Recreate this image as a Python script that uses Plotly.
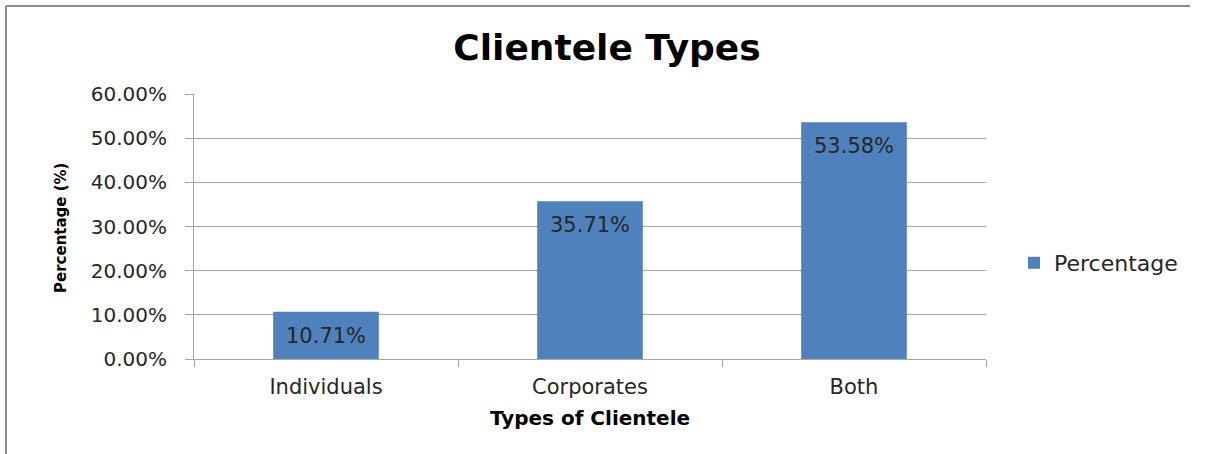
import plotly.graph_objects as go

# Survey breakdown of client types
categories = ["Individuals", "Corporates", "Both"]
percentages = [0.1071, 0.3571, 0.5358]
series_name = "Percentage"
y_ticks = [0.0, 0.1, 0.2, 0.3, 0.4, 0.5, 0.6]
y_tick_labels = ["0.00%", "10.00%", "20.00%", "30.00%", "40.00%", "50.00%", "60.00%"]

W, H = 1208, 454
L, R, T, B = 194, 222, 94, 95
plot_w = W - L - R
plot_h = H - T - B

BAR = "#4f81bd"
GRID = "#a6a6a6"
TXT = "#262626"
BODY_FONT = "DejaVu Sans"
BOLD_FONT = "DejaVu Sans"

fig = go.Figure(
    go.Bar(
        x=categories,
        y=percentages,
        name=series_name,
        marker=dict(color=BAR, line=dict(width=0)),
        width=0.4,
        showlegend=True,
    )
)

# value labels just inside the top of each bar
for cat, val in zip(categories, percentages):
    fig.add_annotation(
        x=cat, y=val, xref="x", yref="y",
        text=f"{val:.2%}", showarrow=False,
        yanchor="middle", yshift=-24,
        font=dict(family=BODY_FONT, size=21, color=TXT),
    )

# outer chart frame: top and left edges (the rest runs off the page)
fx0 = (6 - L) / plot_w
fx1 = (1190 - L) / plot_w
fy1 = 1 + (T - 6) / plot_h
fy0 = -(H - T - plot_h) / plot_h
frame = dict(color="#8c8c8c", width=2)
fig.add_shape(type="line", xref="paper", yref="paper",
              x0=fx0, x1=fx1, y0=fy1, y1=fy1, line=frame)
fig.add_shape(type="line", xref="paper", yref="paper",
              x0=fx0, x1=fx0, y0=fy0, y1=fy1, line=frame)

# y-axis title placed to the left of the tick labels
fig.add_annotation(
    text="<b>Percentage (%)</b>", textangle=-90,
    xref="paper", yref="paper",
    x=(61 - L) / plot_w, y=(T + plot_h - 228) / plot_h,
    xanchor="center", yanchor="middle", showarrow=False,
    font=dict(family=BOLD_FONT, size=15, color="black"),
)

fig.update_layout(
    width=W, height=H,
    margin=dict(l=L, r=R, t=T, b=B),
    paper_bgcolor="white", plot_bgcolor="white",
    title=dict(
        text="<b>Clientele Types</b>",
        x=607 / W, xanchor="center",
        y=1 - 47 / H, yanchor="middle",
        font=dict(family=BOLD_FONT, size=36, color="black"),
    ),
    legend=dict(
        x=(1014 - L) / plot_w, xanchor="left",
        y=(T + plot_h - 263) / plot_h, yanchor="middle",
        font=dict(family=BODY_FONT, size=22, color=TXT),
        bgcolor="rgba(0,0,0,0)",
    ),
    xaxis=dict(
        showline=True, linecolor=GRID, linewidth=1,
        ticks="outside", tickson="boundaries", ticklen=7, tickcolor=GRID,
        tickfont=dict(family=BODY_FONT, size=21, color=TXT),
        ticklabelstandoff=9,
        title=dict(
            text="<b>Types of Clientele</b>",
            font=dict(family=BOLD_FONT, size=20, color="black"),
            standoff=12,
        ),
        showgrid=False,
    ),
    yaxis=dict(
        range=[0, 0.6],
        tickvals=y_ticks, ticktext=y_tick_labels,
        showgrid=True, gridcolor=GRID, gridwidth=1,
        showline=True, linecolor=GRID, linewidth=1,
        ticks="outside", ticklen=8, tickcolor=GRID,
        ticklabelstandoff=14,
        tickfont=dict(family=BODY_FONT, size=20, color=TXT),
        zeroline=False,
    ),
)

fig.write_html("out.html")
